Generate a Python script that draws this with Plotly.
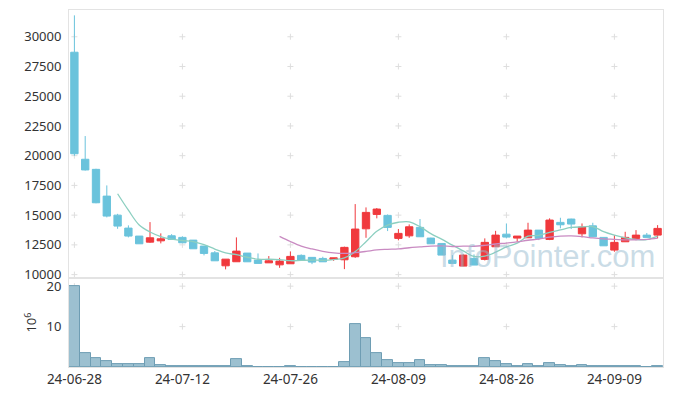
import pandas as pd
import plotly.graph_objects as go
from plotly.subplots import make_subplots

dates = ["24-06-28",
         "24-07-01", "24-07-02", "24-07-03", "24-07-04", "24-07-05",
         "24-07-08", "24-07-09", "24-07-10", "24-07-11", "24-07-12",
         "24-07-15", "24-07-16", "24-07-17", "24-07-18", "24-07-19",
         "24-07-22", "24-07-23", "24-07-24", "24-07-25", "24-07-26",
         "24-07-29", "24-07-30", "24-07-31", "24-08-01", "24-08-02",
         "24-08-05", "24-08-06", "24-08-07", "24-08-08", "24-08-09",
         "24-08-12", "24-08-13", "24-08-14", "24-08-16",
         "24-08-19", "24-08-20", "24-08-21", "24-08-22", "24-08-23",
         "24-08-26", "24-08-27", "24-08-28", "24-08-29", "24-08-30",
         "24-09-02", "24-09-03", "24-09-04", "24-09-05", "24-09-06",
         "24-09-09", "24-09-10", "24-09-11", "24-09-12", "24-09-13"]

opens = [28700, 19700, 18850, 16600, 15000, 13910, 13240, 12730, 12840, 13265,
         13130, 12900, 12400, 11830, 10740, 11080, 11810, 11220, 10990, 10820,
         10910, 11615, 11450, 11360, 11280, 11245, 11500, 13850, 15060, 14980,
         13045, 13260, 13970, 13070, 12620, 11220, 10715, 11360, 11280, 12340,
         13400, 13070, 13095, 13740, 12960, 14390, 14670, 13430, 14100, 13130,
         12060, 12760, 13045, 13320, 13320]
highs = [31800, 21650, 18900, 17500, 15110, 14140, 13240, 14415, 13465, 13400,
         13220, 12900, 12400, 11980, 11300, 13130, 11810, 11780, 11560, 11410,
         11950, 11700, 11450, 11500, 11410, 12350, 15930, 15650, 15600, 15060,
         13830, 14220, 14670, 13100, 12620, 11640, 11700, 11700, 13045, 13680,
         14300, 13240, 14360, 13740, 14730, 14780, 14700, 14300, 14360, 13130,
         13320, 13600, 13740, 13500, 14160]
lows = [19990, 18750, 16000, 14810, 13850, 13130, 12590, 12675, 12625, 12960,
        12675, 12170, 11615, 11160, 10440, 11075, 11075, 10940, 10990, 10570,
        10910, 11220, 10880, 11075, 11160, 10460, 11410, 13095, 14730, 13660,
        12880, 13095, 13180, 12590, 11640, 10940, 10715, 10800, 11190, 12340,
        13045, 12760, 13095, 12900, 12900, 13890, 13830, 13130, 13180, 12420,
        11920, 12760, 12900, 13130, 13045]
closes = [20160, 18800, 16040, 14920, 14080, 13240, 12590, 13095, 13010, 12960,
          12675, 12170, 11780, 11160, 11300, 11975, 11075, 10940, 11160, 11135,
          11530, 11220, 11050, 11075, 11410, 12290, 13830, 15230, 15510, 13970,
          13465, 14020, 13180, 12590, 11640, 10940, 11640, 10800, 12710, 13320,
          13155, 13240, 13740, 13045, 14585, 14190, 14250, 13995, 13180, 12420,
          12710, 13130, 13320, 13130, 13885]
volumes_m = [20.0, 3.4, 2.2, 1.4, 0.67, 0.67, 0.67, 2.2, 0.4, 0.17,
             0.17, 0.17, 0.17, 0.17, 0.17, 1.9, 0.15, 0.05, 0.05, 0.05,
             0.17, 0.05, 0.05, 0.05, 0.05, 1.2, 10.7, 7.2, 3.4, 1.7,
             0.9, 0.9, 1.7, 0.4, 0.4, 0.17, 0.17, 0.17, 2.2, 1.4,
             0.67, 0.17, 0.67, 0.17, 0.9, 0.4, 0.17, 0.4, 0.17, 0.17,
             0.17, 0.17, 0.17, 0.05, 0.17]

price_ticks = [10000, 12500, 15000, 17500, 20000, 22500, 25000, 27500, 30000]
volume_ticks = [10, 20]
x_tick_labels = dates[::10]
ma_windows = [5, 20]
watermark = "InfoPointer.com"

UP = "#f0393d"
DOWN = "#6ac3dc"
GRID = "#dedede"
FRAME = "#e3e3e3"
TEXT = "#333333"
FONT = "Noto Sans"

ma = {w: pd.Series(closes).rolling(w).mean().tolist() for w in ma_windows}

fig = make_subplots(rows=2, cols=1, shared_xaxes=True, vertical_spacing=0,
                    row_heights=[0.751, 0.249])

fig.add_trace(go.Candlestick(x=dates, open=opens, high=highs, low=lows, close=closes,
                             increasing=dict(fillcolor=UP, line=dict(color=UP, width=1)),
                             decreasing=dict(fillcolor=DOWN, line=dict(color=DOWN, width=1)),
                             whiskerwidth=0),
              row=1, col=1)
fig.add_trace(go.Bar(x=dates, y=volumes_m, width=1,
                     marker=dict(color="#9cc0d0", line=dict(color="#6e9db3", width=1))),
              row=2, col=1)

fig.add_trace(go.Scatter(x=dates, y=ma[5], mode="lines", hoverinfo="skip",
                         line=dict(color="#8ccfc0", width=1.3, shape="spline")),
              row=1, col=1)
fig.add_trace(go.Scatter(x=dates, y=ma[20], mode="lines", hoverinfo="skip",
                         line=dict(color="#c98bc2", width=1.3, shape="spline")),
              row=1, col=1)

# grid "+" marks at tick intersections, as shapes below the data
def add_cross(xi, yv, xref, yref):
    common = dict(type="line", xref=xref, yref=yref, xsizemode="pixel", ysizemode="pixel",
                  xanchor=xi, yanchor=yv, layer="below", line=dict(color=GRID, width=1))
    fig.add_shape(x0=-3, x1=3, y0=0, y1=0, **common)
    fig.add_shape(x0=0, x1=0, y0=-3, y1=3, **common)

for d in x_tick_labels:
    xi = dates.index(d)
    for p in price_ticks:
        add_cross(xi, p, "x", "y")
    for v in volume_ticks:
        add_cross(xi, v, "x2", "y2")

fig.add_annotation(text=watermark, xref="paper", yref="paper", x=0.99, y=0.31,
                   xanchor="right", yanchor="middle", showarrow=False,
                   font=dict(family="Liberation Sans", size=31, color="rgba(150,186,206,0.5)"))

axis_common = dict(showgrid=False, zeroline=False, showline=True, mirror=True,
                   linecolor=FRAME, linewidth=1, automargin=False)
fig.update_xaxes(type="category", categoryorder="array", categoryarray=dates,
                 range=[-0.5, len(dates) - 0.5],
                 rangeslider=dict(visible=False), **axis_common)
fig.update_xaxes(showticklabels=False, row=1, col=1)
fig.update_xaxes(tickmode="array", tickvals=x_tick_labels, ticktext=x_tick_labels,
                 ticks="", tickangle=0, tickfont=dict(size=13.5, color=TEXT, family=FONT),
                 row=2, col=1)
fig.update_yaxes(range=[9705, 32250], tickmode="array", tickvals=price_ticks,
                 ticktext=[str(p) for p in price_ticks],
                 ticks="", ticklabelstandoff=4,
                 tickfont=dict(size=13, color=TEXT, family=FONT), row=1, col=1, **axis_common)
fig.update_yaxes(range=[0, 22], tickmode="array", tickvals=volume_ticks,
                 ticktext=[str(v) for v in volume_ticks],
                 ticks="", ticklabelstandoff=4,
                 title=dict(text="10<sup>6</sup>", font=dict(size=13, color=TEXT, family=FONT),
                            standoff=6),
                 tickfont=dict(size=13, color=TEXT, family=FONT), row=2, col=1, **axis_common)

fig.update_layout(width=673, height=396,
                  margin=dict(l=69, r=10, t=10, b=29, autoexpand=False),
                  paper_bgcolor="white", plot_bgcolor="white", showlegend=False,
                  bargap=0, boxgap=0.15, boxgroupgap=0.2,
                  font=dict(family=FONT, color=TEXT))

fig.write_html("out.html", config={"displayModeBar": False},
               post_script="document.body.style.margin='0';document.body.style.overflow='hidden';")
